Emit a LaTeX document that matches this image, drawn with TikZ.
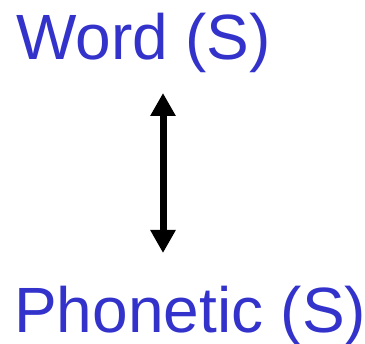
\documentclass[tikz,border=0pt]{standalone}
\usepackage{fontspec}
\setmainfont{Liberation Sans}
\usetikzlibrary{arrows.meta}
\definecolor{txtblue}{HTML}{3333CC}
\tikzset{
  lbl/.style={text=txtblue, inner sep=0pt, anchor=base west, font=\fontsize{64}{70}\selectfont},
  dblarrow/.style={line width=7pt, {Triangle[length=23pt,width=24pt]}-{Triangle[length=23pt,width=24pt]}}
}
\begin{document}
\begin{tikzpicture}[x=1pt,y=1pt]
\useasboundingbox (0,0) rectangle (365,344);
\node[lbl] (word) at (16,284) {Word (S)};
\node[lbl] (phon) at (14,11) {Phonetic (S)};
\coordinate (top) at (163,251);
\coordinate (bot) at (163,91);
\draw[dblarrow] (top) -- (bot);
\end{tikzpicture}
\end{document}
